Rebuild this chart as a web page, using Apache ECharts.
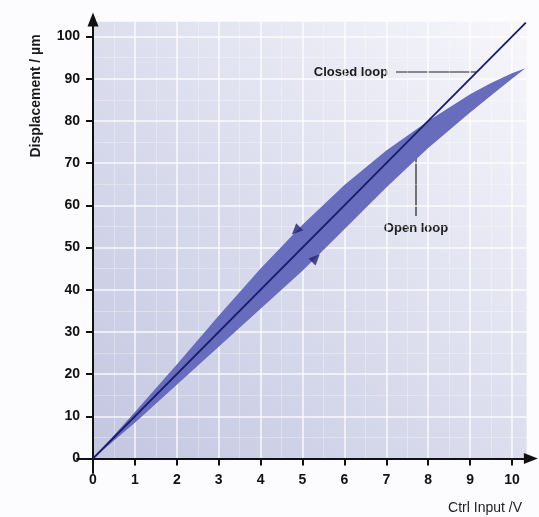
<!DOCTYPE html>
<html><head><meta charset="utf-8">
<script src="https://cdn.jsdelivr.net/npm/echarts@6/dist/echarts.min.js"></script>
<style>html,body{margin:0;padding:0;background:#fcfcfe}#c{width:539px;height:517px}</style>
</head><body><div id="c"></div>
<script>
// ---- data ----
const xTicks = [0,1,2,3,4,5,6,7,8,9,10];
const yTicks = [0,10,20,30,40,50,60,70,80,90,100];
const upperX = [0,1,2,3,4,5,6,7,8,9,9.5,10,10.32];
const upperY = [0,11,22.3,33.8,45,55.4,64.8,73,80,86.3,89,91.3,92.5];
const lowerX = [0,1,2,3,4,5,6,7,8,9,9.5,10,10.32];
const lowerY = [0,8.5,17.5,26.5,35.5,44.5,54.3,64.2,73.6,82,86,90,92.5];
const closedX = [0,10.33];
const closedY = [0,103.3];
const arrowX = [4.84,5.32];
const arrowY = [54.0,47.5];
const arrowRot = [135,-45];

// ---- layout ----
const OX = 93, OY = 458.5, PX = 41.9, PY = 4.22;
const FONT = '"Liberation Sans", Arial, sans-serif';
const chart = echarts.init(document.getElementById('c'));

const g0 = {xmin:0, xmax:10.35, ymin:0, ymax:103.5};
const g1 = {xmin:-0.38, xmax:10.45, ymin:-3.45, ymax:104};
function gridOf(g, extra){
  return Object.assign({
    left: OX + g.xmin*PX,
    top: OY - g.ymax*PY,
    width: (g.xmax-g.xmin)*PX,
    height: (g.ymax-g.ymin)*PY,
    containLabel:false
  }, extra||{});
}

const bandPolygon = function(params, api){
  const pts = [];
  for (let i=0;i<upperX.length;i++) pts.push(api.coord([upperX[i], upperY[i]]));
  for (let i=lowerX.length-1;i>=0;i--) pts.push(api.coord([lowerX[i], lowerY[i]]));
  return {type:'polygon', shape:{points:pts}, style:{fill:'#676cbd'}};
};

chart.setOption({
  backgroundColor:'#fcfcfe',
  animation:false,
  grid:[
    gridOf(g0,{show:true, borderWidth:0,
      backgroundColor:new echarts.graphic.LinearGradient(0,1,1,0,[
        {offset:0,color:'#c3c6e0'},{offset:0.5,color:'#dcdeee'},{offset:1,color:'#f7f7fb'}])}),
    gridOf(g1)
  ],
  xAxis:[
    {type:'value', gridIndex:0, min:g0.xmin, max:g0.xmax, interval:1,
     axisLine:{show:false},
     axisTick:{show:true, length:7, lineStyle:{color:'#111', width:2}, customValues:xTicks},
     axisLabel:{show:true, customValues:xTicks, margin:15, color:'#111', fontSize:14, fontWeight:'bold', fontFamily:FONT},
     splitLine:{show:true, lineStyle:{color:'rgba(255,255,255,0.85)', width:1.5}},
     minorTick:{show:false, splitNumber:2},
     minorSplitLine:{show:true, lineStyle:{color:'rgba(255,255,255,0.3)', width:1}}},
    {type:'value', gridIndex:1, min:g1.xmin, max:g1.xmax,
     axisLine:{show:true, onZero:true, symbol:['none','triangle'], symbolSize:[11,14], lineStyle:{color:'#111', width:2}},
     axisTick:{show:false}, axisLabel:{show:false}, splitLine:{show:false}}
  ],
  yAxis:[
    {type:'value', gridIndex:0, min:g0.ymin, max:g0.ymax, interval:10,
     axisLine:{show:false},
     axisTick:{show:true, length:7, lineStyle:{color:'#111', width:2}, customValues:yTicks},
     axisLabel:{show:true, customValues:yTicks, margin:13, color:'#111', fontSize:14, fontWeight:'bold', fontFamily:FONT},
     splitLine:{show:true, lineStyle:{color:'rgba(255,255,255,0.85)', width:1.5}},
     minorTick:{show:false, splitNumber:2},
     minorSplitLine:{show:true, lineStyle:{color:'rgba(255,255,255,0.3)', width:1}}},
    {type:'value', gridIndex:1, min:g1.ymin, max:g1.ymax,
     axisLine:{show:true, onZero:true, symbol:['none','triangle'], symbolSize:[11,14], lineStyle:{color:'#111', width:2}},
     axisTick:{show:false}, axisLabel:{show:false}, splitLine:{show:false}}
  ],
  series:[
    {type:'custom', xAxisIndex:0, yAxisIndex:0, renderItem:bandPolygon, data:[[upperX[0],upperY[0]]], z:2, silent:true},
    {type:'line', xAxisIndex:0, yAxisIndex:0, data:closedX.map((x,i)=>[x,closedY[i]]),
     showSymbol:false, symbol:'none', clip:false, lineStyle:{color:'#1c1c6c', width:1.8}, z:4},
    {type:'scatter', xAxisIndex:0, yAxisIndex:0, data:arrowX.map((x,i)=>({value:[x,arrowY[i]], symbolRotate:arrowRot[i]})),
     symbol:'triangle', symbolSize:[10,11], itemStyle:{color:'#22226e'}, z:5}
  ],
  graphic:[
    {type:'text', x:36, y:96, rotation:Math.PI/2, style:{text:'Displacement / µm', fill:'#1a1a1a', font:'bold 14px '+FONT, align:'center', verticalAlign:'middle'}},
    {type:'text', x:522, y:508, style:{text:'Ctrl Input /V', fill:'#222', font:'14px '+FONT, align:'right', verticalAlign:'middle'}},
    {type:'text', x:351, y:72, style:{text:'Closed loop', fill:'#1a1a1a', font:'bold 13px '+FONT, align:'center', verticalAlign:'middle'}},
    {type:'line', shape:{x1:396, y1:72, x2:477, y2:72}, style:{stroke:'#222', lineWidth:1.2}},
    {type:'text', x:416, y:228, style:{text:'Open loop', fill:'#1a1a1a', font:'bold 13px '+FONT, align:'center', verticalAlign:'middle'}},
    {type:'line', shape:{x1:416, y1:152, x2:416, y2:216}, style:{stroke:'#222', lineWidth:1.2}}
  ]
});
</script></body></html>
